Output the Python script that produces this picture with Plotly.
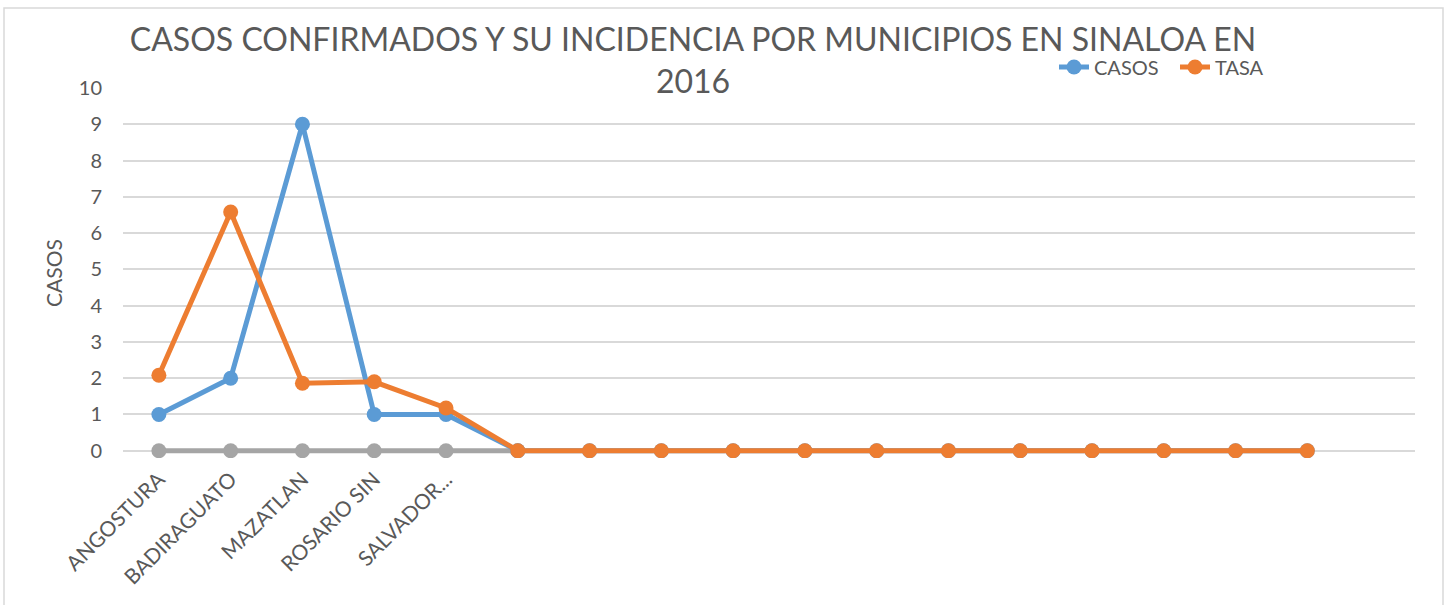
import plotly.graph_objects as go

municipios = ["ANGOSTURA", "BADIRAGUATO", "MAZATLAN", "ROSARIO SIN", "SALVADOR...",
              "", "", "", "", "", "", "", "", "", "", "", "", ""]
casos = [1, 2, 9, 1, 1, 0, 0, 0, 0, 0, 0, 0, 0, 0, 0, 0, 0]
tasa = [2.08, 6.58, 1.86, 1.90, 1.18, 0, 0, 0, 0, 0, 0, 0, 0, 0, 0, 0, 0]
serie3 = [0, 0, 0, 0, 0, 0]

title_text = "CASOS CONFIRMADOS Y SU INCIDENCIA POR MUNICIPIOS EN SINALOA EN<br>2016"
y_title = "CASOS"
y_ticks = list(range(0, 11))

FONT = "Lato"
TXT = "#595959"
BLUE = "#5B9BD5"
ORANGE = "#ED7D31"
GRAY = "#A5A5A5"

idx = list(range(len(municipios)))

fig = go.Figure()
fig.add_trace(go.Scatter(x=idx[:len(serie3)], y=serie3, mode="lines+markers", name="",
                         line=dict(color=GRAY, width=5), marker=dict(size=15, color=GRAY),
                         showlegend=False, hoverinfo="skip"))
fig.add_trace(go.Scatter(x=idx[:len(casos)], y=casos, mode="lines+markers", name="CASOS",
                         line=dict(color=BLUE, width=5), marker=dict(size=15, color=BLUE)))
fig.add_trace(go.Scatter(x=idx[:len(tasa)], y=tasa, mode="lines+markers", name="TASA",
                         line=dict(color=ORANGE, width=5), marker=dict(size=15, color=ORANGE)))

W, H = 1447, 605
YMIN, YMAX = -0.2, 10
L, R, T = 123, 32, 88
unit = (451 - 88) / 10.0
bottom_px = 451 - YMIN * unit
B = H - bottom_px
pw, ph = W - L - R, bottom_px - T

def px(xp):
    return (xp - L) / pw

def py(yp):
    return (bottom_px - yp) / ph

fig.update_layout(
    width=W, height=H,
    margin=dict(l=L, r=R, t=T, b=B, autoexpand=False),
    paper_bgcolor="white", plot_bgcolor="white",
    font=dict(family=FONT, color=TXT),
    title=dict(text=title_text, font=dict(family=FONT, size=32, color=TXT),
               x=693 / W, xref="container", xanchor="center",
               y=1 - 51 / H, yref="container", yanchor="middle"),
    xaxis=dict(range=[-0.5, len(municipios) - 0.5], tickmode="array",
               tickvals=idx, ticktext=municipios, tickangle=-45,
               tickfont=dict(family=FONT, size=21, color=TXT),
               showgrid=False, zeroline=False, showline=False, ticks="",
               ticklabelstandoff=4),
    yaxis=dict(range=[YMIN, YMAX], tickmode="array", tickvals=y_ticks,
               tickfont=dict(family=FONT, size=20, color=TXT),
               showgrid=True, gridcolor="#D9D9D9", gridwidth=1.5,
               zeroline=False, showline=False, ticks="", ticklabelstandoff=20,
               title=dict(text=y_title, font=dict(family=FONT, size=21, color=TXT), standoff=10)),
    legend=dict(orientation="h", x=px(1054), xanchor="left", y=py(67), yanchor="middle",
                font=dict(family=FONT, size=20, color=TXT), bgcolor="rgba(0,0,0,0)",
                itemwidth=30, tracegroupgap=0, entrywidth=76, entrywidthmode="pixels"),
    shapes=[dict(type="rect", xref="paper", yref="paper",
                 x0=px(4), x1=px(1443), y0=py(640), y1=py(8),
                 line=dict(color="#D9D9D9", width=1.5), fillcolor="rgba(0,0,0,0)", layer="below")],
    showlegend=True,
)

fig.write_html("out.html", config={"displayModeBar": False},
               post_script="document.body.style.margin='0';document.body.style.overflow='hidden';")
